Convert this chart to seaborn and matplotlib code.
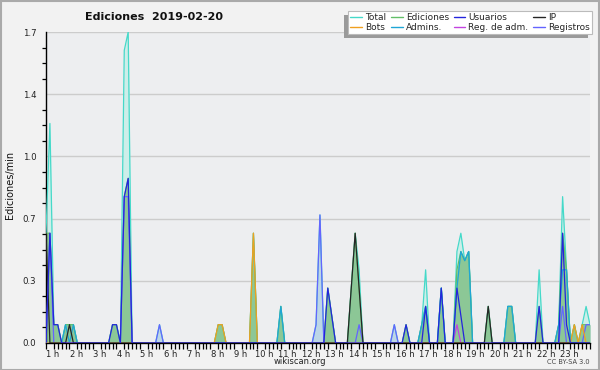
import numpy as np
import pandas as pd
import matplotlib
matplotlib.use("Agg")
import matplotlib.pyplot as plt
import seaborn as sns
from matplotlib.patches import Rectangle
from matplotlib.lines import Line2D
from matplotlib.ticker import MultipleLocator, FixedLocator
from matplotlib.transforms import ScaledTranslation

# ---------------- data (edits per minute, 10-minute slots; unlisted slots are 0) -------------
total_times = ["00:50", "01:00", "01:10", "01:20", "01:40", "01:50", "02:00", "03:40", "03:50",
               "04:10", "04:20", "05:40", "08:10", "08:20", "09:40", "10:50", "12:20", "12:30",
               "12:50", "13:00", "13:50", "14:00", "14:10", "15:40", "16:10", "16:50", "17:00",
               "17:40", "18:20", "18:30", "18:40", "18:50", "19:40", "20:30", "20:40", "21:50",
               "22:40", "22:50", "23:00", "23:20", "23:40", "23:50", "24:00"]
total_vals = [0.6, 1.2, 0.1, 0.1, 0.1, 0.1, 0.1, 0.1, 0.1,
              1.6, 1.7, 0.1, 0.1, 0.1, 0.6, 0.2, 0.1, 0.7,
              0.3, 0.15, 0.3, 0.6, 0.4, 0.1, 0.1, 0.1, 0.4,
              0.3, 0.5, 0.6, 0.45, 0.5, 0.2, 0.2, 0.2, 0.4,
              0.1, 0.8, 0.4, 0.1, 0.1, 0.2, 0.1]

edits_times = ["00:50", "01:00", "01:10", "01:20", "01:40", "01:50", "02:00", "03:40", "03:50",
               "04:10", "04:20", "08:10", "08:20", "09:40", "10:50", "12:50", "13:00", "13:50",
               "14:00", "14:10", "16:10", "16:50", "17:00", "17:40", "18:20", "18:30", "18:40",
               "18:50", "19:40", "20:30", "20:40", "21:50", "22:40", "22:50", "23:00", "23:20",
               "23:40", "23:50", "24:00"]
edits_vals = [0.6, 0.6, 0.1, 0.1, 0.1, 0.1, 0.1, 0.1, 0.1,
              0.8, 0.9, 0.1, 0.1, 0.6, 0.2, 0.3, 0.15, 0.3,
              0.6, 0.3, 0.1, 0.1, 0.2, 0.3, 0.4, 0.5, 0.45,
              0.5, 0.2, 0.2, 0.2, 0.2, 0.1, 0.6, 0.4, 0.1,
              0.1, 0.1, 0.1]

users_times = ["01:00", "01:10", "01:20", "03:40", "03:50", "04:10", "04:20", "12:50", "13:00",
               "16:10", "17:00", "17:40", "18:20", "18:30", "21:50", "22:50", "23:00"]
users_vals = [0.6, 0.1, 0.1, 0.1, 0.1, 0.8, 0.9, 0.3, 0.15,
              0.1, 0.2, 0.3, 0.3, 0.15, 0.2, 0.6, 0.1]

ip_times = ["00:50", "01:50", "13:50", "14:00", "14:10", "19:40"]
ip_vals = [0.6, 0.1, 0.3, 0.6, 0.3, 0.2]

bots_times = ["08:10", "08:20", "09:40", "23:20", "23:40"]
bots_vals = [0.1, 0.1, 0.6, 0.1, 0.1]

admins_times = ["01:40", "02:00", "10:50", "16:50", "17:00", "17:40", "18:20", "18:30", "18:40",
                "18:50", "20:30", "20:40", "22:40", "22:50", "23:00"]
admins_vals = [0.1, 0.1, 0.2, 0.1, 0.2, 0.3, 0.3, 0.5, 0.45,
               0.5, 0.2, 0.2, 0.1, 0.4, 0.4]

regadm_times = ["18:20"]
regadm_vals = [0.1]

logs_times = ["01:00", "04:10", "04:20", "05:40", "12:20", "12:30", "14:10", "15:40", "22:50",
              "23:50", "24:00"]
logs_vals = [0.6, 0.8, 0.8, 0.1, 0.1, 0.7, 0.1, 0.1, 0.2, 0.1, 0.1]

hour_labels = [f"{h} h" for h in range(1, 24)]
y_tick_values = [0.0, 0.34, 0.68, 1.02, 1.36, 1.7]

# ---------------- build table ----------------
slots = []
for m in range(50, 24 * 60 + 1, 10):
    slots.append(f"{m // 60:02d}:{m % 60:02d}")
slot_hours = [int(s[:2]) + int(s[3:]) / 60 for s in slots]

def dense(times, vals):
    d = dict(zip(times, vals))
    return [d.get(s, 0.0) for s in slots]

series = {
    "Total": dense(total_times, total_vals),
    "Ediciones": dense(edits_times, edits_vals),
    "Usuarios": dense(users_times, users_vals),
    "IP": dense(ip_times, ip_vals),
    "Bots": dense(bots_times, bots_vals),
    "Admins.": dense(admins_times, admins_vals),
    "Reg. de adm.": dense(regadm_times, regadm_vals),
    "Registros": dense(logs_times, logs_vals),
}
rows = []
for name, vals in series.items():
    for h, v in zip(slot_hours, vals):
        rows.append({"hora": h, "valor": v, "serie": name})
df = pd.DataFrame(rows)

colors = {
    "Total": "#45d9c9",
    "Ediciones": "#62bf68",
    "Usuarios": "#2424dc",
    "IP": "#262626",
    "Bots": "#f0a020",
    "Admins.": "#1fa6d6",
    "Reg. de adm.": "#c244e0",
    "Registros": "#6464ff",
}
draw_order = ["Total", "Ediciones", "Registros", "Reg. de adm.", "Admins.", "Bots", "IP", "Usuarios"]

# ---------------- figure ----------------
sns.set_theme(style="white")
plt.rcParams["font.family"] = ["DejaVu Sans"]
fig = plt.figure(figsize=(6.0, 3.7), dpi=100, facecolor="#f2f2f2")
ax = fig.add_axes([46 / 600, 27 / 370, 544 / 600, 311 / 370])
ax.set_facecolor("#edeef0")

x = np.array(slot_hours)
ax.fill_between(x, series["Total"], color="#cdeee9", lw=0, zorder=1)
ax.fill_between(x, series["Registros"], color="#bcd6e6", lw=0, zorder=1.1)
ax.fill_between(x, series["Ediciones"], color="#8cc796", lw=0, zorder=1.2)

sns.lineplot(data=df, x="hora", y="valor", hue="serie", hue_order=draw_order,
             palette=colors, linewidth=0.9, legend=False, estimator=None, ax=ax, zorder=3)

ax.set_xlim(50 / 60, 24)
ax.set_ylim(0, 1.7)

# y axis
ax.yaxis.set_major_locator(FixedLocator(y_tick_values))
ax.set_yticklabels([f"{v:.1f}" for v in y_tick_values])
ax.yaxis.set_minor_locator(MultipleLocator(0.085))
ax.yaxis.grid(True, which="major", color="#cccccc", lw=1)
ax.set_axisbelow(True)
ax.tick_params(axis="y", which="major", length=6, width=0.9, color="black", labelsize=6.2,
               pad=1, labelcolor="#222222")
ax.tick_params(axis="y", which="minor", length=3, width=0.9, color="black", left=True)

# x axis
ax.xaxis.set_major_locator(FixedLocator(list(range(1, 24))))
ax.set_xticklabels(hour_labels)
ax.xaxis.set_minor_locator(MultipleLocator(1 / 6))
ax.tick_params(axis="x", which="major", length=4, width=0.9, color="black", labelsize=6,
               pad=1, labelcolor="#222222")
ax.tick_params(axis="x", which="minor", length=4, width=0.9, color="black", bottom=True)
for lab in ax.get_xticklabels():
    lab.set_transform(lab.get_transform() + ScaledTranslation(3 / 100, 0, fig.dpi_scale_trans))

for s in ["top", "right"]:
    ax.spines[s].set_visible(False)
for s in ["left", "bottom"]:
    ax.spines[s].set_color("black")
    ax.spines[s].set_linewidth(1)
ax.set_xlabel("")
ax.set_ylabel("")

# texts
fig.text(154 / 600, 1 - 17 / 370, "Ediciones  2019-02-20", ha="center", va="center",
         fontsize=8, fontweight="bold", color="#111111")
fig.text(10 / 600, 1 - 185 / 370, "Ediciones/min", rotation=90, ha="center", va="center",
         fontsize=7, color="#111111")
fig.text(300 / 600, 1 - 362 / 370, "wikiscan.org", ha="center", va="center",
         fontsize=6, color="#222222")
fig.text(590 / 600, 1 - 362 / 370, "CC BY-SA 3.0", ha="right", va="center",
         fontsize=4.8, color="#444444")

# legend
leg_order = ["Total", "Bots", "Ediciones", "Admins.", "Usuarios", "Reg. de adm.", "IP", "Registros"]
handles = [Line2D([0], [0], color=colors[n], lw=1) for n in leg_order]
leg = fig.legend(handles, leg_order, ncol=4, loc="upper right",
                 bbox_to_anchor=(592 / 600, 1 - 11 / 370), fontsize=6.5,
                 frameon=True, fancybox=False, framealpha=1, edgecolor="#bbbbbb",
                 facecolor="white", handlelength=1.3, handletextpad=0.35,
                 columnspacing=0.5, labelspacing=0.05, borderpad=0.25, borderaxespad=0)
leg.get_frame().set_linewidth(0.8)
leg.set_zorder(10)
fig.canvas.draw()
bb = leg.get_window_extent().transformed(fig.transFigure.inverted())
shadow = Rectangle((bb.x0 - 4 / 600, bb.y0 - 4 / 370), bb.width, bb.height,
                   transform=fig.transFigure, facecolor="#9a9a9a", edgecolor="none", zorder=5)
fig.add_artist(shadow)

# figure border
fig.add_artist(Rectangle((0.5 / 600, 0.5 / 370), 598.5 / 600, 368.5 / 370, transform=fig.transFigure,
                         fill=False, edgecolor="#aaaaaa", lw=1.5))

fig.savefig("out.png", dpi=100, facecolor=fig.get_facecolor())
